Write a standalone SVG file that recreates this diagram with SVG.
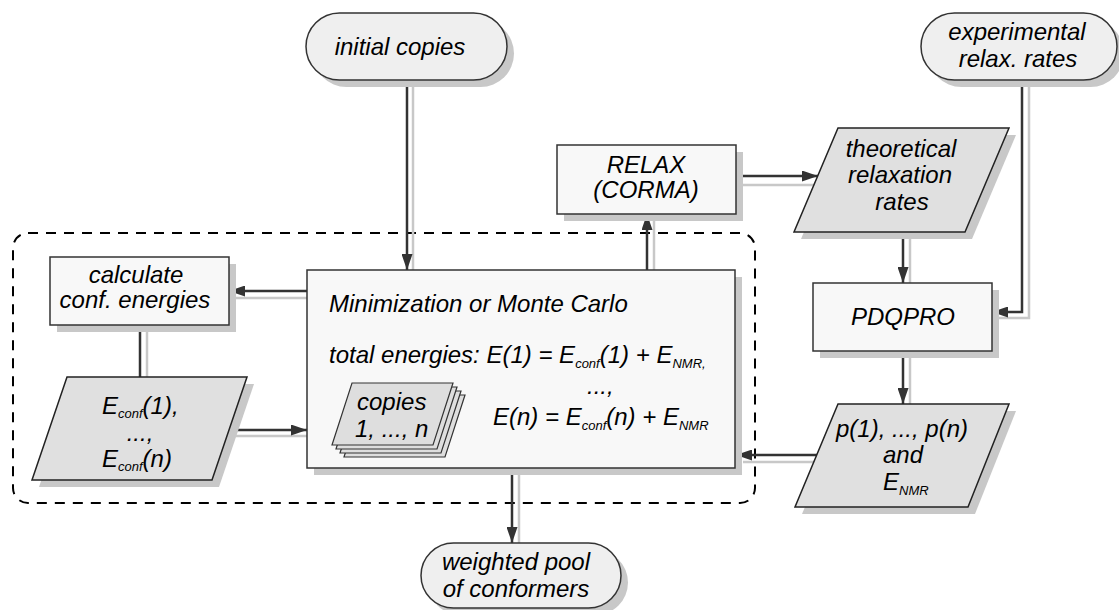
<svg xmlns="http://www.w3.org/2000/svg" width="1119" height="610" viewBox="0 0 1119 610">
<style>
text{font-family:"Liberation Sans",Arial,sans-serif;font-style:italic;font-size:24px;fill:#000}
.c{text-anchor:middle}
.sub{font-size:13px}
.term{fill:#efefef;stroke:#333;stroke-width:1.5}
.box{fill:#f8f8f8;stroke:#333;stroke-width:1.5}
.para{fill:#e0e0e0;stroke:#222;stroke-width:1.5}
.sh{fill:#c8c8c8;stroke:none}
.ln{stroke:#333;stroke-width:2.5;fill:none}
.lsh{stroke:#c8c8c8;stroke-width:2.5;fill:none}
.sheet{fill:#dedede;stroke:#333;stroke-width:1.2}
</style>
<defs>
<marker id="ah" viewBox="0 0 16 11" refX="16" refY="5.5" markerWidth="16" markerHeight="11" markerUnits="userSpaceOnUse" orient="auto">
<path d="M0,0 L16,5.5 L0,11 z" fill="#333"/>
</marker>
</defs>

<!-- group boundary -->
<rect id="loop-boundary" x="13" y="233" width="742" height="270" rx="15" ry="15" fill="none" stroke="#000" stroke-width="2" stroke-dasharray="10 8"/>

<g id="connectors">
<!-- shadows -->
<path class="lsh" d="M413,87 V270"/>
<path class="lsh" d="M654,221 V270"/>
<path class="lsh" d="M743,185 H814"/>
<path class="lsh" d="M910,239 V283"/>
<path class="lsh" d="M1029,87 V318 H999"/>
<path class="lsh" d="M910,358 V404"/>
<path class="lsh" d="M815,462 H743"/>
<path class="lsh" d="M307,298 H236"/>
<path class="lsh" d="M147,332 V377"/>
<path class="lsh" d="M226,436 H307"/>
<path class="lsh" d="M519,475 V543"/>
<!-- lines -->
<path class="ln" d="M407,80 V270" marker-end="url(#ah)"/>
<path class="ln" d="M647,270 V214" marker-end="url(#ah)"/>
<path class="ln" d="M736,176 H818" marker-end="url(#ah)"/>
<path class="ln" d="M903,232 V283" marker-end="url(#ah)"/>
<path class="ln" d="M1022,80 V312 H992" marker-end="url(#ah)"/>
<path class="ln" d="M903,351 V404" marker-end="url(#ah)"/>
<path class="ln" d="M818,455 H736" marker-end="url(#ah)"/>
<path class="ln" d="M307,291 H229" marker-end="url(#ah)"/>
<path class="ln" d="M140,325 V377"/>
<path class="ln" d="M229,430 H307" marker-end="url(#ah)"/>
<path class="ln" d="M512,468 V543" marker-end="url(#ah)"/>
</g>

<g id="initial-copies">
<rect class="sh" x="313" y="20" width="201" height="67" rx="33.5"/>
<rect class="term" x="306" y="13" width="201" height="67" rx="33.5"/>
<text class="c" x="400" y="55">initial copies</text>
</g>

<g id="experimental-rates">
<rect class="sh" x="928" y="20" width="196" height="67" rx="33.5"/>
<rect class="term" x="921" y="13" width="196" height="67" rx="33.5"/>
<text class="c" x="1017" y="40">experimental</text>
<text class="c" x="1018" y="67">relax. rates</text>
</g>

<g id="relax">
<rect class="sh" x="564" y="152" width="179" height="69"/>
<rect class="box" x="557" y="145" width="179" height="69"/>
<text class="c" x="646" y="173">RELAX</text>
<text class="c" x="646" y="198">(CORMA)</text>
</g>

<g id="theoretical-rates">
<polygon class="sh" points="845,135 1016,135 972,239 801,239"/>
<polygon class="para" points="838,128 1009,128 965,232 794,232"/>
<text class="c" x="901" y="157">theoretical</text>
<text class="c" x="900" y="183">relaxation</text>
<text class="c" x="902" y="210">rates</text>
</g>

<g id="pdqpro">
<rect class="sh" x="820" y="290" width="179" height="68"/>
<rect class="box" x="813" y="283" width="179" height="68"/>
<text class="c" x="903" y="325">PDQPRO</text>
</g>

<g id="populations">
<polygon class="sh" points="845,411 1016,411 975,514 802,514"/>
<polygon class="para" points="838,404 1009,404 968,507 795,507"/>
<text class="c" x="902" y="437">p(1), ..., p(n)</text>
<text class="c" x="903" y="463">and</text>
<text x="883" y="490">E<tspan class="sub" dy="5">NMR</tspan></text>
</g>

<g id="calculate-energies">
<rect class="sh" x="57" y="264" width="179" height="68"/>
<rect class="box" x="50" y="257" width="179" height="68"/>
<text class="c" x="136" y="283">calculate</text>
<text class="c" x="135" y="308">conf. energies</text>
</g>

<g id="conf-energies">
<polygon class="sh" points="74,384 254,384 219,487 39,487"/>
<polygon class="para" points="67,377 247,377 212,480 32,480"/>
<text x="102" y="414">E<tspan class="sub" dy="4">conf</tspan><tspan dy="-4">(1),</tspan></text>
<text class="c" x="140" y="441" font-size="22">...,</text>
<text x="102" y="467">E<tspan class="sub" dy="4">conf</tspan><tspan dy="-4">(n)</tspan></text>
</g>

<g id="minimization">
<rect class="sh" x="314" y="277" width="428" height="198"/>
<rect class="box" x="307" y="270" width="428" height="198"/>
<text x="329" y="312">Minimization or Monte Carlo</text>
<text x="329" y="363">total energies: E(1) = E<tspan class="sub" dy="5">conf</tspan><tspan dy="-5">(1) + E</tspan><tspan class="sub" dy="5">NMR,</tspan></text>
<text x="587" y="394">...,</text>
<text x="493" y="425">E(n) = E<tspan class="sub" dy="5">conf</tspan><tspan dy="-5">(n) + E</tspan><tspan class="sub" dy="5">NMR</tspan></text>
<g id="copies-stack">
<polygon class="sheet" points="364,395 465,395 445,457 344,457"/>
<polygon class="sheet" points="360,391 461,391 441,453 340,453"/>
<polygon class="sheet" points="356,387 457,387 437,449 336,449"/>
<polygon class="sheet" points="352,383 453,383 433,445 332,445"/>
<text x="357" y="410">copies</text>
<text x="355" y="437">1, ..., n</text>
</g>
</g>

<g id="weighted-pool">
<rect class="sh" x="428" y="550" width="200" height="65" rx="32.5"/>
<rect class="term" x="421" y="543" width="200" height="65" rx="32.5"/>
<text class="c" x="516" y="570">weighted pool</text>
<text class="c" x="516" y="597">of conformers</text>
</g>
</svg>
